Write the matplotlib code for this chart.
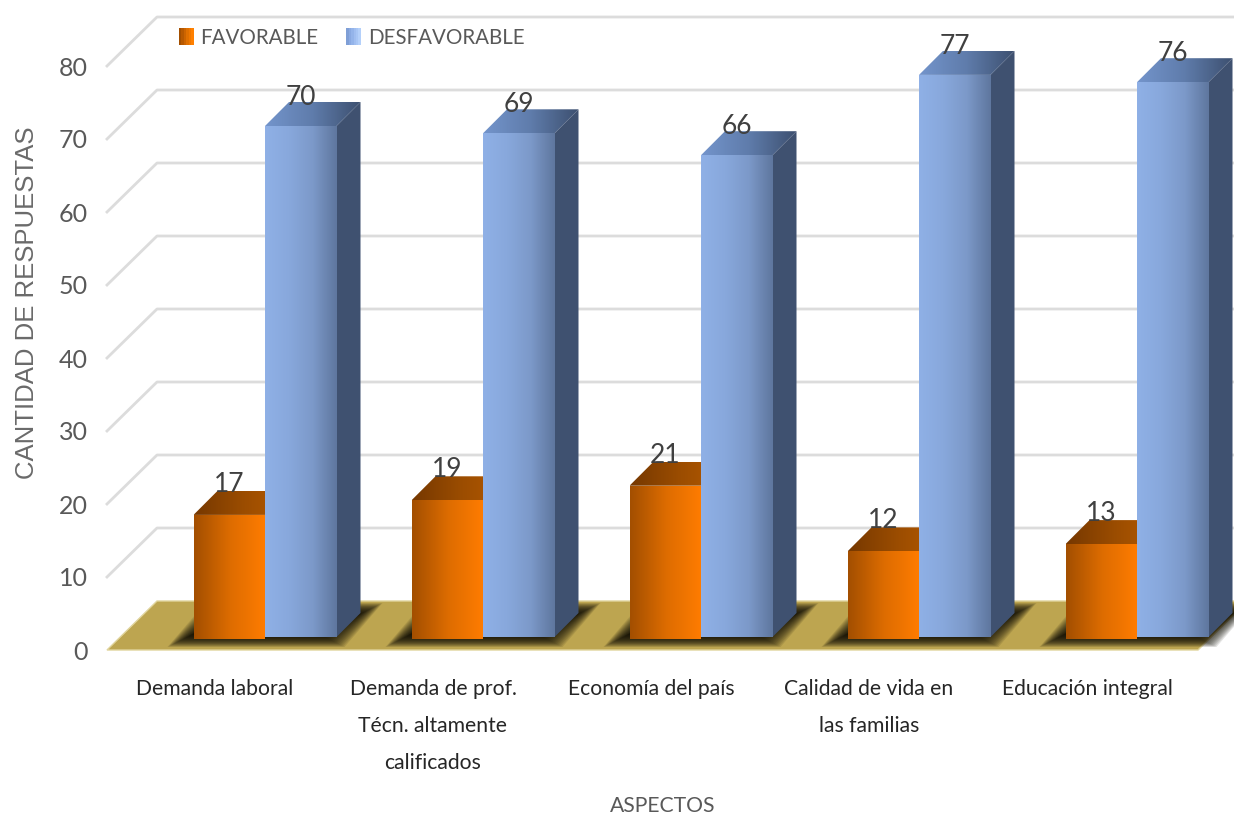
import numpy as np
import matplotlib
matplotlib.use("Agg")
import matplotlib.pyplot as plt
from matplotlib.colors import LinearSegmentedColormap
from matplotlib.legend_handler import HandlerBase
from matplotlib.patches import Patch, Polygon, Rectangle

categories = [
    "Demanda laboral",
    "Demanda de prof.\nTécn. altamente\ncalificados",
    "Economía del país",
    "Calidad de vida en\nlas familias",
    "Educación integral",
]
favorable = [17, 19, 21, 12, 13]
desfavorable = [70, 69, 66, 77, 76]
y_ticks = [0, 10, 20, 30, 40, 50, 60, 70, 80]

W, H = 1234, 814
PX_X = 218.0  # pixels for one category
PX_Y = 7.3    # pixels for one unit of y
LEFT, ZERO = 107, 650

NARROW = ["Lato", "DejaVu Sans"]

# colours
orange_front = LinearSegmentedColormap.from_list("of", ["#a34f00", "#dd6c00", "#ff7c00"])
orange_top = LinearSegmentedColormap.from_list("ot", ["#763800", "#9a4c00", "#b55a00"])
blue_front = LinearSegmentedColormap.from_list("bf", ["#8fb0e6", "#88a8dc", "#7c99c9", "#5f779f"])
blue_top = LinearSegmentedColormap.from_list("bt", ["#7394cb", "#5f7cab", "#3d5070"])
blue_side = "#3f5170"

fig = plt.figure(figsize=(W / 100, H / 100), dpi=100)
ax = fig.add_axes([LEFT / W, (H - ZERO) / H, (W - LEFT) / W, ZERO / H])
ax.patch.set_visible(False)
xlim = ((LEFT - 215) / PX_X, (W - 215) / PX_X)
ylim = (0, ZERO / PX_Y)

dx_back, dy_back = 50 / PX_X, 49 / PX_Y   # wall depth
dx_bar, dy_bar = 24 / PX_X, 24 / PX_Y     # bar depth
shift = 50 / PX_X                         # bars sit right of the tick
bar_w = 71.5 / PX_X
base_o, base_b = 11 / PX_Y, 13 / PX_Y     # bars stand a little into the floor


def gradient_poly(pts, cmap, z):
    pts = np.array(pts)
    im = ax.imshow(
        np.linspace(0, 1, 64).reshape(1, -1), cmap=cmap, aspect="auto",
        interpolation="bilinear", zorder=z,
        extent=(pts[:, 0].min(), pts[:, 0].max(), pts[:, 1].min(), pts[:, 1].max()),
    )
    im.set_clip_path(Polygon(pts, transform=ax.transData))


# -----------------------------
# walls and floor
# -----------------------------
x0 = xlim[0]
for v in y_ticks[1:]:
    ax.plot([x0, x0 + dx_back, xlim[1]], [v, v + dy_back, v + dy_back],
            color="#dcdcdc", lw=2, zorder=1, clip_on=False)

floor_right = x0 + (1198 - LEFT) / PX_X
floor = Polygon([(x0, 0), (floor_right, 0), (floor_right + dx_back, dy_back), (x0 + dx_back, dy_back)],
                facecolor="#bda550", edgecolor="#e0d49c", lw=1, zorder=2, clip_on=False)
ax.add_patch(floor)

# -----------------------------
# bars
# -----------------------------
for i in range(len(categories)):
    left = i + shift - bar_w
    mid = i + shift
    right = i + shift + bar_w

    # soft shadow on the floor
    for k in range(24):
        ins_x, ins_y = k * 1.2 / PX_X, k * 0.6 / PX_Y
        sx0, sx1 = left - 26 / PX_X + ins_x, right + 8 / PX_X - ins_x
        sy0, sy1 = 3 / PX_Y + ins_y, 47 / PX_Y - ins_y
        ax.add_patch(Polygon(
            [(sx0, sy0), (sx1, sy0), (sx1 + 38 / PX_X, sy1), (sx0 + 38 / PX_X, sy1)],
            facecolor="#120f05", edgecolor="none", alpha=0.11, zorder=3))

    # favorable
    top = base_o + favorable[i]
    gradient_poly([(left, top), (mid, top), (mid + dx_bar, top + dy_bar), (left + dx_bar, top + dy_bar)],
                  orange_top, 4)
    gradient_poly([(left, base_o), (mid, base_o), (mid, top), (left, top)], orange_front, 5)

    # desfavorable
    top = base_b + desfavorable[i]
    ax.add_patch(Polygon([(right, base_b), (right + dx_bar, base_b + dy_bar),
                          (right + dx_bar, top + dy_bar), (right, top)],
                         facecolor=blue_side, edgecolor="none", zorder=6))
    gradient_poly([(mid, top), (right, top), (right + dx_bar, top + dy_bar), (mid + dx_bar, top + dy_bar)],
                  blue_top, 6)
    gradient_poly([(mid, base_b), (right, base_b), (right, top), (mid, top)], blue_front, 7)

    # value labels
    ax.text((left + mid) / 2, base_o + favorable[i] + 4.2, str(favorable[i]),
            ha="center", va="center", fontsize=19, family=NARROW, color="#404040", zorder=9)
    ax.text((mid + right) / 2, base_b + desfavorable[i] + 3.9, str(desfavorable[i]),
            ha="center", va="center", fontsize=19, family=NARROW, color="#404040", zorder=9)

ax.set_xlim(xlim)
ax.set_ylim(ylim)

# -----------------------------
# axes text
# -----------------------------
for s in ax.spines.values():
    s.set_visible(False)
ax.set_yticks(y_ticks)
ax.set_yticklabels([str(v) for v in y_ticks], fontsize=18, family=NARROW, color="#595959")
ax.set_xticks(range(len(categories)))
ax.set_xticklabels(categories, fontsize=15.2, family=NARROW, color="#262626", linespacing=2.05)
ax.tick_params(axis="y", length=0, pad=14)
ax.tick_params(axis="x", length=0, pad=21)

ax.set_ylabel("CANTIDAD DE RESPUESTAS", fontsize=18.5, family=["Liberation Sans", "DejaVu Sans"], color="#6a6a6a")
ax.yaxis.set_label_coords((39 - LEFT) / (W - LEFT), (ZERO - 303) / ZERO)
ax.set_xlabel("ASPECTOS", fontsize=15.2, family=NARROW, color="#595959")
ax.xaxis.set_label_coords((663 - LEFT) / (W - LEFT), (ZERO - 796) / ZERO)


class StripHandler(HandlerBase):
    def __init__(self, colors):
        super().__init__()
        self.colors = colors

    def create_artists(self, legend, orig, xd, yd, width, height, fontsize, trans):
        n = len(self.colors)
        return [Rectangle((-xd + j * width / n, -yd - 1), width / n + 0.2, height + 2,
                          facecolor=c, edgecolor="none", transform=trans)
                for j, c in enumerate(self.colors)]


h_fav = Patch(label="FAVORABLE")
h_des = Patch(label="DESFAVORABLE")
ax.legend(
    handles=[h_fav, h_des],
    handler_map={
        h_fav: StripHandler(["#a34f00", "#b85900", "#cc6400", "#e07000", "#f07800", "#ff8000"]),
        h_des: StripHandler(["#7f9fd6", "#8aaae2", "#94b4ea", "#a0bef0", "#a8c6f5", "#b4d0fa"]),
    },
    loc="center left", bbox_to_anchor=(179 / W, (H - 38) / H), bbox_transform=fig.transFigure,
    ncol=2, frameon=False, handlelength=0.7, handletextpad=0.35, columnspacing=1.35,
    prop={"family": NARROW, "size": 14.8}, labelcolor="#595959", borderaxespad=0, borderpad=0,
)

fig.savefig("out.png", dpi=100)
